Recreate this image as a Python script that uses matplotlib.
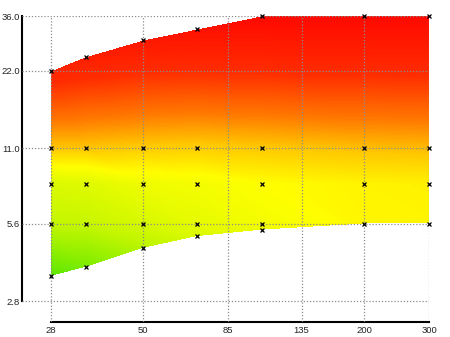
import numpy as np
import matplotlib
matplotlib.use("Agg")
import matplotlib.pyplot as plt
import matplotlib.tri as mtri
from matplotlib.colors import LinearSegmentedColormap
from matplotlib.ticker import FixedLocator, FixedFormatter, NullLocator

# ---- data ----
focal = [28, 35, 50, 70, 105, 200, 300]
f_min = [3.5, 3.8, 4.5, 5.0, 5.3, 5.6, 5.6]
f_max = [22, 25, 29, 32, 36, 36, 36]
stops = [5.6, 8, 11]
val_min = [0.04, 0.13, 0.30, 0.40, 0.45, 0.515, 0.518]
val_56 = [0.33, 0.34, 0.386, 0.43, 0.47, 0.515, 0.518]
val_8 = [0.40, 0.41, 0.457, 0.47, 0.50, 0.52, 0.525]
val_11 = [0.60, 0.60, 0.59, 0.585, 0.595, 0.61, 0.615]
val_max = [0.87, 0.90, 0.93, 0.96, 1.0, 1.0, 1.0]

x_ticks = [28, 50, 85, 135, 200, 300]
x_labels = ['28', '50', '85', '135', '200', '300']
y_ticks = [2.8, 5.6, 11.0, 22.0, 36.0]
y_labels = ['2.8', '5.6', '11.0', '22.0', '36.0']

# ---- build points column by column (log-log space) ----
xs, ys, vs, cols = [], [], [], []
for i, fl in enumerate(focal):
    col = []
    rows = []
    if f_min[i] < stops[0]:
        rows.append((f_min[i], val_min[i]))
    rows += [(stops[0], val_56[i]), (stops[1], val_8[i]), (stops[2], val_11[i])]
    rows.append((f_max[i], val_max[i]))
    for fy, v in rows:
        col.append(len(xs))
        xs.append(fl); ys.append(fy); vs.append(v)
    cols.append(col)
lx = np.log(np.array(xs, float))
ly = np.log(np.array(ys, float))
vs = np.array(vs, float)

tris = []
for L, R in zip(cols[:-1], cols[1:]):
    i = j = 0
    while i < len(L) - 1 or j < len(R) - 1:
        if i == len(L) - 1:
            tris.append((L[i], R[j], R[j + 1])); j += 1
        elif j == len(R) - 1:
            tris.append((L[i], R[j], L[i + 1])); i += 1
        elif ly[L[i + 1]] <= ly[R[j + 1]]:
            tris.append((L[i], R[j], L[i + 1])); i += 1
        else:
            tris.append((L[i], R[j], R[j + 1])); j += 1
tri = mtri.Triangulation(lx, ly, triangles=np.array(tris))

cmap = LinearSegmentedColormap.from_list('gyr', [
    (0.0, (80/255, 230/255, 0)),
    (0.5, (1, 1, 0)),
    (0.6, (1, 200/255, 0)),
    (0.7, (1, 120/255, 0)),
    (0.83, (1, 45/255, 0)),
    (1.0, (1, 10/255, 0)),
])

xlim = (np.log(23.4), np.log(300))
ylim = (np.log(2.32), np.log(36))

# interpolate onto a pixel grid
nx, ny = 407, 306
gx = np.linspace(xlim[0], xlim[1], nx)
gy = np.linspace(ylim[0], ylim[1], ny)
GX, GY = np.meshgrid(gx, gy)
interp = mtri.LinearTriInterpolator(tri, vs)
GZ = interp(GX, GY)

fig = plt.figure(figsize=(4.5, 3.37), dpi=100)
ax = fig.add_axes([22/450, 15/337, 407/450, 306/337])
ax.imshow(GZ, cmap=cmap, vmin=0, vmax=1, origin='lower',
          extent=(xlim[0], xlim[1], ylim[0], ylim[1]), aspect='auto',
          interpolation='nearest', zorder=1)
ax.plot(lx, ly, linestyle='none', marker='x', color='black', markersize=2.6,
        markeredgewidth=0.9, zorder=4, clip_on=False)

ax.set_xlim(*xlim)
ax.set_ylim(*ylim)

ax.xaxis.set_major_locator(FixedLocator(np.log(x_ticks)))
ax.xaxis.set_major_formatter(FixedFormatter(x_labels))
ax.xaxis.set_minor_locator(NullLocator())
ax.yaxis.set_major_locator(FixedLocator(np.log(y_ticks)))
ax.yaxis.set_major_formatter(FixedFormatter(y_labels))
ax.yaxis.set_minor_locator(NullLocator())

ax.grid(True, color='#8c8c8c', linestyle=(0, (1, 1.5)), linewidth=0.9, zorder=3)
ax.set_axisbelow(False)

for s in ['top', 'right']:
    ax.spines[s].set_visible(False)
ax.spines['left'].set_bounds(np.log(2.8), np.log(36))
ax.spines['bottom'].set_bounds(np.log(28), np.log(300))
for s in ['left', 'bottom']:
    ax.spines[s].set_linewidth(1.5)
    ax.spines[s].set_color('black')

ax.tick_params(axis='both', length=0, labelsize=6.8, labelcolor='#222222')
ax.tick_params(axis='x', pad=3)
ax.tick_params(axis='y', pad=1.5)
for lab in ax.get_xticklabels() + ax.get_yticklabels():
    lab.set_family(['Liberation Sans', 'DejaVu Sans'])

fig.savefig('out.png', dpi=100)
